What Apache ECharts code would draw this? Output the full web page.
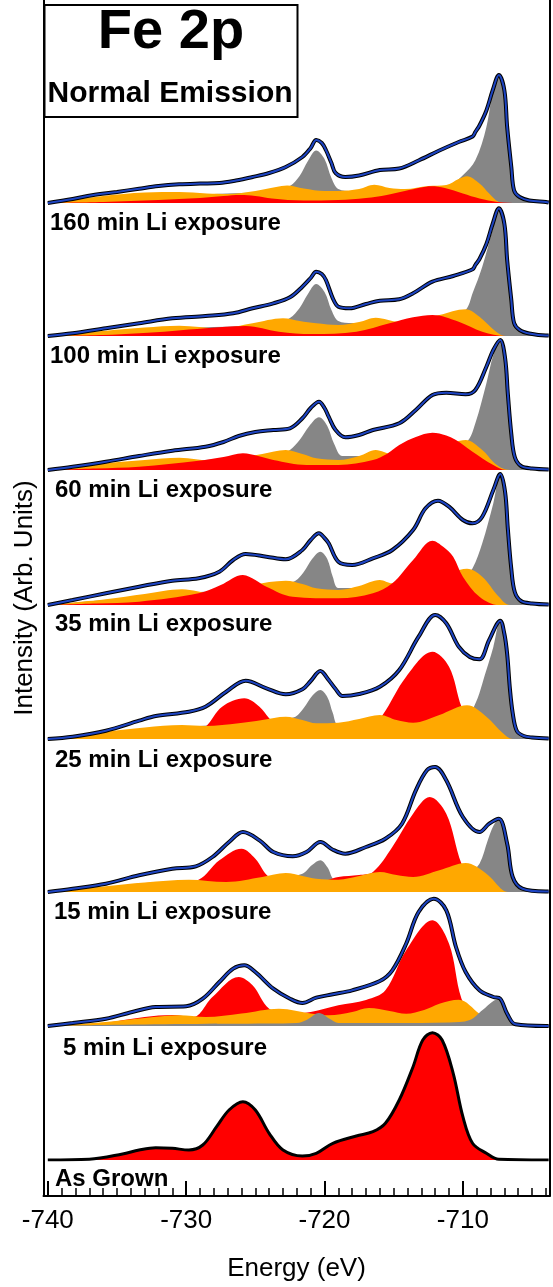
<!DOCTYPE html>
<html>
<head>
<meta charset="utf-8">
<script src="https://cdn.jsdelivr.net/npm/echarts@6/dist/echarts.min.js"></script>
<style>
html, body { margin: 0; padding: 0; background: #fff; }
#chart { width: 553px; height: 1287px; }
</style>
</head>
<body>
<div id="chart"></div>
<script>
// energy axis (eV)
var majorTicks = [-740, -730, -720, -710];
var minorTicks = [-740, -739, -738, -737, -736, -735, -734, -733, -732, -731, -730, -729, -728, -727, -726, -725, -724, -723, -722, -721, -720, -719, -718, -717, -716, -715, -714, -713, -712, -711, -710, -709, -708, -707, -706, -705, -704];

var labels = ['160 min Li exposure', '100 min Li exposure', '60 min Li exposure', '35 min Li exposure',
              '25 min Li exposure', '15 min Li exposure', '5 min Li exposure', 'As Grown'];

// 160 min
var env1 = [[-740,0],[-738.2,4],[-736.8,7.7],[-735,11],[-733.4,14.3],[-732,17],[-730.5,18.7],[-729,19.5],[-727.6,20],[-726.4,22.5],[-725.2,26],[-724,30],[-722.8,36],[-721.6,46],[-721,55],[-720.6,63],[-720.2,60],[-719.9,53],[-719.5,40],[-719.2,30],[-718.5,26],[-717.5,27.5],[-716,33],[-714.6,34.5],[-713.2,42.5],[-711.7,52.5],[-710.3,61],[-709.3,66.5],[-709.1,71],[-708.8,77.5],[-708.3,92.5],[-707.85,112.5],[-707.4,128],[-707,112.5],[-706.8,76],[-706.5,36],[-706.3,12.5],[-705.9,6],[-705.2,2.5],[-704,1],[-703.8,0.5]];
var gray1 = [[-740,0],[-735,5],[-730,8],[-726,10],[-723.5,12],[-722.5,17],[-721.8,27],[-721.2,42],[-720.6,52.5],[-720,44],[-719.5,25],[-719,14],[-718,12],[-716,13],[-713,14],[-711,18],[-710,27.7],[-709.1,42.7],[-708.3,76],[-707.75,119],[-707.4,128],[-707,112.5],[-706.8,76],[-706.5,36],[-706.3,12.5],[-705.9,6],[-705.2,2.5],[-704,1],[-703.8,0.5]];
var orange1 = [[-740,0],[-736,7],[-733,10.5],[-730.5,11],[-728.5,9.5],[-727,9],[-725,12],[-723.5,16],[-722.7,17.5],[-721.5,14.5],[-720,12],[-719,12],[-717.5,14],[-716.4,18.3],[-715.3,15],[-714.2,14],[-712.5,17],[-711.2,18],[-710.3,24],[-709.7,26.7],[-708.8,19.4],[-708.1,9.4],[-707.4,1],[-706.8,0],[-703.8,0]];
var red1 = [[-740,0],[-736,1],[-732,3],[-729,5],[-727.3,7],[-726.1,8],[-725,7],[-723.8,4.5],[-721.5,2.5],[-719,3],[-717,5],[-715.5,8],[-714.2,12],[-713,15.5],[-712.3,16.7],[-711.3,15],[-710,9.4],[-708.8,4.4],[-707.5,1],[-706,0],[-703.8,0]];

// 100 min
var env2 = [[-740,0],[-738.2,2.7],[-735.8,7.7],[-733.4,12.7],[-731,17.7],[-728.6,20],[-726.6,22.7],[-725.2,27.7],[-723.7,32.7],[-722.5,38.7],[-721.6,49.3],[-721,58],[-720.6,64.3],[-720.2,62],[-719.9,56],[-719.4,37.7],[-719,29.3],[-718.2,27.7],[-717,32],[-716,35.3],[-714.6,36.7],[-713.6,42.7],[-712.2,54.3],[-710.7,60],[-709.3,66.7],[-709.1,71],[-708.8,77],[-708.3,92],[-707.85,112],[-707.4,127.7],[-707,112],[-706.8,76],[-706.5,36],[-706.3,13],[-705.9,6],[-705.2,2.5],[-704,0.5],[-703.8,0.5]];
var gray2 = [[-740,0],[-735,5],[-730,8],[-726,10],[-723.5,13],[-722.5,18],[-721.8,28],[-721.2,42],[-720.6,52],[-720,44],[-719.5,26],[-719,15],[-718,13],[-716,13],[-713,14],[-711,18],[-709.8,26],[-709.3,42.7],[-708.6,69.3],[-707.8,109],[-707.4,127.7],[-707,112],[-706.8,76],[-706.5,36],[-706.3,13],[-705.9,6],[-705.2,2.5],[-704,0.5],[-703.8,0.5]];
var orange2 = [[-740,0],[-735.8,5.3],[-733,8.5],[-730.5,10.3],[-727.6,7.7],[-725.2,12.7],[-723,17.7],[-721.8,15],[-720.6,12.7],[-719,11],[-717.5,14],[-716.3,18.3],[-714.6,14.3],[-713,17],[-711.7,21],[-709.8,26.7],[-708.8,19.3],[-707.6,4.3],[-706.9,0],[-703.8,0]];
var red2 = [[-740,0],[-736,1],[-733.4,2.7],[-731,5],[-728.6,7.7],[-725.7,10],[-723.3,4.3],[-720.9,2],[-717.7,4.3],[-715.3,12.7],[-713.6,18.7],[-712.2,21],[-710.3,14.3],[-708.6,4.3],[-706.9,0],[-703.8,0]];

// 60 min
var env3 = [[-740,0],[-738.2,3.3],[-735.8,8.3],[-733.4,14],[-731,19.3],[-728.6,23.3],[-727.3,28],[-726.2,34],[-725,38],[-723.7,40],[-722.5,41.7],[-721.6,51.7],[-721,62],[-720.4,68.3],[-720,62],[-719.7,53.3],[-719.2,40],[-718.5,32.7],[-717.5,35],[-716.5,40],[-714.6,46.7],[-713.4,60],[-712.2,75],[-711.2,77.3],[-709.8,75.7],[-709.1,80],[-708.3,103.3],[-707.8,120],[-707.3,130],[-706.95,112],[-706.75,76],[-706.5,36],[-706.25,13],[-705.8,4],[-705,1.5],[-703.8,0.5]];
var gray3 = [[-740,0],[-735,5],[-730,9],[-726,12],[-723.3,15],[-722.5,20],[-721.8,30],[-721.1,44],[-720.4,52.7],[-719.8,44],[-719.3,26],[-718.7,14],[-717,14],[-714,15],[-711,20],[-709.7,28.3],[-709.1,46.7],[-708.3,86.7],[-707.8,115],[-707.3,130],[-706.95,112],[-706.75,76],[-706.5,36],[-706.25,13],[-705.8,4],[-705,1.5],[-703.8,0.5]];
var orange3 = [[-740,0],[-735.8,6.7],[-733,10],[-730.5,12.3],[-728.1,9.3],[-726.5,11],[-724.5,16],[-722.8,20],[-721.6,16],[-720.6,11.7],[-719,10],[-717.5,14],[-716.3,20],[-715.1,16],[-713.5,18],[-711.5,24],[-709.8,30],[-708.6,20],[-707.8,8],[-707.2,2],[-706.6,0],[-703.8,0]];
var red3 = [[-740,0],[-736.5,1.5],[-733.4,3.3],[-729.1,9.3],[-727.3,13],[-725.9,16.7],[-724.8,14],[-723.7,10],[-721.3,5],[-719,5],[-716.5,10],[-715.5,16],[-714.6,25],[-713.4,33],[-712.2,37.3],[-711.2,34.5],[-710.5,30],[-709.3,18.3],[-707.8,5],[-706.9,0],[-703.8,0]];

// 35 min
var env4 = [[-740,0],[-738.2,5],[-735.8,11.7],[-733.4,18.3],[-731,24.3],[-729.1,26.7],[-727.6,33.3],[-726.6,45],[-725.7,51],[-724.2,48.3],[-722.8,45.7],[-721.6,55],[-721,65],[-720.4,71.7],[-720,67],[-719.7,61.7],[-719,43.3],[-718,40],[-716.5,46.7],[-715.1,55],[-713.6,75],[-712.7,96.7],[-711.8,104.3],[-711,98.3],[-710,85],[-709.3,81.7],[-708.6,88.3],[-707.8,115],[-707.3,131],[-706.95,113],[-706.75,76],[-706.5,36],[-706.25,13],[-705.8,4],[-705,1.5],[-703.8,0.5]];
var gray4 = [[-740,0],[-735,6],[-730,12],[-726,16],[-723,20],[-722.1,24.3],[-721.5,33],[-720.9,46],[-720.3,53.3],[-719.8,46],[-719.4,28],[-719,17],[-717,17],[-714,18],[-711,24],[-709.8,30],[-709.3,36.7],[-708.6,61.7],[-707.8,101.7],[-707.3,131],[-706.95,113],[-706.75,76],[-706.5,36],[-706.25,13],[-705.8,4],[-705,1.5],[-703.8,0.5]];
var orange4 = [[-740,0],[-735.8,5.7],[-733,11],[-730.3,15.7],[-728.1,11.7],[-726.5,15],[-725.2,20],[-722.8,24.3],[-721.6,21],[-720.6,16.7],[-719,15],[-717.5,19],[-716,25],[-715.1,21.7],[-713.5,24],[-711.7,28.3],[-709.7,36.3],[-708.6,28.3],[-707.4,8.3],[-706.6,0],[-703.8,0]];
var red4 = [[-740,0],[-736.5,1.5],[-733.4,3.3],[-729.1,11.7],[-727.5,20],[-725.9,30],[-725,25],[-724.2,18.3],[-722.3,8.3],[-719,6.7],[-716.5,11.7],[-715.1,21.7],[-713.6,45],[-712.2,64.3],[-711.4,58],[-710.7,48.3],[-710,28.3],[-708.8,8.3],[-707.4,0],[-703.8,0]];

// 25 min
var env5 = [[-740,0],[-738.2,2.3],[-735.8,8.3],[-733.4,18.3],[-732.2,23],[-729.8,27.3],[-728.6,32.3],[-727.1,47.3],[-725.7,58.3],[-724.2,50.7],[-722.8,44.7],[-721.6,49.7],[-721,58],[-720.3,68],[-719.7,59],[-719.2,50],[-718.7,43],[-717.5,45],[-716,52.3],[-714.6,69],[-713.2,102.3],[-712,124],[-711.2,115.7],[-710.3,92.3],[-709.5,82],[-708.8,79.7],[-708.1,99],[-707.3,118.3],[-707,105],[-706.8,85],[-706.6,50],[-706.4,26],[-706.1,8],[-705.6,3],[-705,1.5],[-703.8,0.5]];
var gray5 = [[-740,0],[-735,6],[-730,12],[-726,16],[-723,20],[-722.1,22.3],[-721.5,31],[-720.9,43],[-720.3,49],[-719.8,42],[-719.4,26],[-719,14],[-717,16],[-714,18],[-711,24],[-709.8,28],[-709.2,32.3],[-708.3,69],[-707.8,92],[-707.3,118.3],[-707,105],[-706.8,85],[-706.6,50],[-706.4,26],[-706.1,8],[-705.6,3],[-705,1.5],[-703.8,0.5]];
var red5 = [[-740,0],[-735,3],[-731,8],[-729.3,10],[-728.6,12.3],[-727.4,32.3],[-725.8,40.7],[-724.7,32.3],[-724,20.7],[-723.2,10],[-721,6],[-718,8],[-716.5,15],[-715.8,24],[-714.1,62.3],[-712.2,87.3],[-711,72.3],[-710.1,32.3],[-709.5,19],[-708.5,8],[-707.5,2],[-706.5,0],[-703.8,0]];
var orange5 = [[-740,0],[-735.8,7.3],[-733,11.5],[-730.3,14],[-728.6,13],[-726.2,15.7],[-724.5,19],[-722.8,22.3],[-721.6,19],[-720.6,15.7],[-719,16.3],[-717.5,20],[-716,24],[-714.8,19],[-713.6,16.3],[-711.7,24],[-709.7,33.7],[-708.3,22.3],[-707.1,5.7],[-706.4,0],[-703.8,0]];

// 15 min
var env6 = [[-740,0],[-738.2,3.3],[-735.8,8.3],[-733.4,16.7],[-731,23.3],[-729.3,25.7],[-728.1,35],[-726.9,50],[-725.9,60],[-724.7,51.7],[-723.7,40],[-722.3,35.7],[-721.3,40],[-720.3,50],[-719.4,42.3],[-718.5,38.3],[-717,45],[-715.6,53.3],[-714.4,68.3],[-713.4,101.7],[-712.6,121.7],[-712,125],[-711.2,111.7],[-710,75],[-708.8,60],[-708.1,68.3],[-707.4,73.3],[-706.8,48.3],[-706.4,15],[-705.7,3.3],[-704,0.5],[-703.8,0.5]];
var gray6 = [[-740,0],[-735,4],[-730,8],[-726,11],[-723,15],[-721.6,18.3],[-720.9,27],[-720.3,31.7],[-719.8,25],[-719.2,11.7],[-717,11],[-714,12],[-711,14],[-709.5,20],[-708.8,28.3],[-708.2,51.7],[-707.8,66],[-707.4,73.3],[-706.8,48.3],[-706.4,15],[-705.7,3.3],[-704,0.5],[-703.8,0.5]];
var red6 = [[-740,0],[-736,3],[-733.4,8.5],[-730.5,10],[-729.1,12.3],[-727.6,31.7],[-726,43.3],[-725,33.3],[-724,15],[-722.5,10],[-720.5,10],[-719,15],[-717.5,17],[-716.5,20],[-715.1,45],[-713.6,78.3],[-712.4,95],[-711.2,78.3],[-710.1,28.3],[-709.3,12],[-708,4],[-707,0],[-703.8,0]];
var orange6 = [[-740,0],[-735.8,5.7],[-733,9.5],[-729.8,12.3],[-727.1,10],[-724.5,15],[-722.8,19],[-721.6,16],[-720.6,13.3],[-719,12.3],[-717.5,16],[-716,20],[-714.8,17],[-713.6,15],[-711.7,21.7],[-709.8,29],[-708.3,18.3],[-707.1,1.7],[-706.6,0],[-703.8,0]];

// 5 min
var env7 = [[-740,0],[-738.2,3],[-735.8,7.3],[-733.9,14],[-732.2,19],[-730,19.7],[-728.8,27.3],[-727.6,44],[-726.6,57.3],[-725.8,60.7],[-725,54],[-723.7,37.3],[-722.5,27.3],[-721.6,23],[-720.6,28.3],[-719.4,31.7],[-718,35.7],[-716,45],[-715.1,55.7],[-714.1,82.3],[-713.2,114],[-712.1,127.3],[-711.2,115.7],[-710.5,79],[-709.8,54],[-708.8,35.7],[-707.8,29],[-707.3,27.3],[-706.8,12.3],[-706.2,1.7],[-704,0],[-703.8,0]];
var red7 = [[-740,0],[-736,3],[-733,9],[-731,11],[-729.5,9],[-728.1,29],[-726.2,49],[-725.2,40.7],[-724,17.3],[-722.5,12],[-721,14],[-719,20.7],[-717,26],[-715.6,35.7],[-714.1,75.7],[-712.2,105.7],[-711,82.3],[-710.1,27.3],[-709.3,12],[-708,3],[-707,0],[-703.8,0]];
var orange7 = [[-740,0],[-735.8,4],[-733,8],[-730.5,10.7],[-728.6,9],[-726,12.5],[-723.3,17.3],[-720.9,12.3],[-719.7,10.7],[-718,14],[-716.8,18],[-715.3,15],[-714.1,12.3],[-712.8,16],[-711.7,22.3],[-710.3,26.3],[-708.8,12.3],[-707.8,2.3],[-707.2,0],[-703.8,0]];
var gray7 = [[-740,0],[-736,1],[-730,2],[-724,2.5],[-722,3],[-721.3,6],[-720.4,13],[-719.6,7],[-719,3],[-715,3],[-711,3.5],[-709.5,6],[-708.6,15.7],[-707.8,25],[-707.3,27.3],[-706.8,12.3],[-706.2,1.7],[-705,0],[-703.8,0]];

// as grown
var asGrown = [[-740,0],[-737,0.7],[-734.6,6],[-733.4,10],[-732.2,12.3],[-731,11.7],[-729.8,10],[-728.8,15],[-727.8,33.3],[-726.9,50],[-725.9,58.3],[-725,50],[-724,26.7],[-723,10],[-721.6,4],[-720.6,6.7],[-719.4,16.7],[-717.7,24],[-716.5,28.3],[-715.6,36.7],[-714.6,60],[-713.6,93.3],[-712.9,120],[-712.2,127.3],[-711.5,120],[-710.7,86.7],[-710,43.3],[-709.3,16.7],[-708.3,6.7],[-707.4,0.7],[-704,0],[-703.8,0]];

var FONT = '"Liberation Sans", Arial, Helvetica, sans-serif';
var xMin = -740.31, xMax = -703.74;
var baseY = [203, 336, 470, 605, 739, 892, 1026, 1160];
var labelPos = [[50, 223], [50, 356], [55, 490], [55, 624], [55, 760], [54, 912], [63, 1048], [55, 1179]];
var colors = { gray: '#868686', orange: '#ffa800', red: '#ff0000' };

var spectra = [
  { fills: [['gray', gray1], ['orange', orange1], ['red', red1]], env: env1 },
  { fills: [['gray', gray2], ['orange', orange2], ['red', red2]], env: env2 },
  { fills: [['gray', gray3], ['orange', orange3], ['red', red3]], env: env3 },
  { fills: [['gray', gray4], ['orange', orange4], ['red', red4]], env: env4 },
  { fills: [['gray', gray5], ['red', red5], ['orange', orange5]], env: env5 },
  { fills: [['gray', gray6], ['red', red6], ['orange', orange6]], env: env6 },
  { fills: [['red', red7], ['orange', orange7], ['gray', gray7]], env: env7 },
  { fills: [['red', asGrown]], env: asGrown, noFit: true }
];

var myChart = echarts.init(document.getElementById('chart'));

var grids = [], xAxes = [], yAxes = [], series = [];
spectra.forEach(function (s, i) {
  grids.push({ left: 43.5, right: 3.5, top: baseY[i] - 140, height: 140 });
  xAxes.push({ gridIndex: i, type: 'value', min: xMin, max: xMax, show: false });
  yAxes.push({ gridIndex: i, type: 'value', min: 0, max: 140, show: false });
  s.fills.forEach(function (f) {
    series.push({
      type: 'line', xAxisIndex: i, yAxisIndex: i, data: f[1], smooth: 0.35,
      showSymbol: false, silent: true,
      lineStyle: { width: 0, opacity: 0 },
      areaStyle: { color: colors[f[0]], opacity: 1 }
    });
  });
  // measured data (black) under the fit envelope (blue)
  series.push({
    type: 'line', xAxisIndex: i, yAxisIndex: i, data: s.env, smooth: 0.35,
    showSymbol: false, silent: true,
    lineStyle: { color: '#000', width: s.noFit ? 3 : 4 }
  });
  if (!s.noFit) {
    series.push({
      type: 'line', xAxisIndex: i, yAxisIndex: i, data: s.env, smooth: 0.35,
      showSymbol: false, silent: true,
      lineStyle: { color: '#1d44c2', width: 2 }
    });
  }
});

// frame with the energy axis
var f = spectra.length;
grids.push({ left: 43.5, right: 3.5, top: 0, bottom: 80 });
xAxes.push({
  gridIndex: f, type: 'value', min: xMin, max: xMax, position: 'bottom',
  name: 'Energy (eV)', nameLocation: 'middle', nameGap: 60,
  nameTextStyle: { fontSize: 26, color: '#000', fontFamily: FONT },
  axisLine: { onZero: false, lineStyle: { color: '#000', width: 2 } },
  axisTick: { customValues: majorTicks, inside: true, length: 15, lineStyle: { color: '#000', width: 2 } },
  axisLabel: { customValues: majorTicks, fontSize: 26, color: '#000', fontFamily: FONT, margin: 12 },
  splitLine: { show: false }
});
xAxes.push({
  gridIndex: f, type: 'value', min: xMin, max: xMax, position: 'bottom',
  axisLine: { show: false },
  axisTick: { customValues: minorTicks, inside: true, length: 8, lineStyle: { color: '#000', width: 1.5 } },
  axisLabel: { show: false },
  splitLine: { show: false }
});
yAxes.push({
  gridIndex: f, type: 'value', min: 0, max: 1, position: 'left',
  name: 'Intensity (Arb. Units)', nameLocation: 'middle', nameRotate: 90, nameGap: 6,
  nameTextStyle: { fontSize: 26, color: '#000', fontFamily: FONT },
  axisLine: { show: true, onZero: false, lineStyle: { color: '#000', width: 2 } },
  axisTick: { show: false }, axisLabel: { show: false }, splitLine: { show: false }
});
yAxes.push({
  gridIndex: f, type: 'value', min: 0, max: 1, position: 'right',
  axisLine: { show: true, onZero: false, lineStyle: { color: '#000', width: 2 } },
  axisTick: { show: false }, axisLabel: { show: false }, splitLine: { show: false }
});

var graphics = [
  { type: 'rect', shape: { x: 44.5, y: 5, width: 253, height: 112 },
    style: { fill: '#fff', stroke: '#000', lineWidth: 2 }, z: 100 },
  { type: 'text', x: 171, y: 33, z: 101,
    style: { text: 'Fe 2p', fontSize: 56, fontWeight: 'bold', fontFamily: FONT, fill: '#000',
             textAlign: 'center', textVerticalAlign: 'middle' } },
  { type: 'text', x: 170, y: 94, z: 101,
    style: { text: 'Normal Emission', fontSize: 30, fontWeight: 'bold', fontFamily: FONT, fill: '#000',
             textAlign: 'center', textVerticalAlign: 'middle' } }
];
labels.forEach(function (t, i) {
  graphics.push({ type: 'text', x: labelPos[i][0], y: labelPos[i][1], z: 101,
    style: { text: t, fontSize: 24, fontWeight: 'bold', fontFamily: FONT, fill: '#000',
             textAlign: 'left', textVerticalAlign: 'middle' } });
});

var option = {
  animation: false,
  backgroundColor: '#fff',
  grid: grids,
  xAxis: xAxes,
  yAxis: yAxes,
  series: series,
  graphic: graphics
};
myChart.setOption(option);
</script>
</body>
</html>
